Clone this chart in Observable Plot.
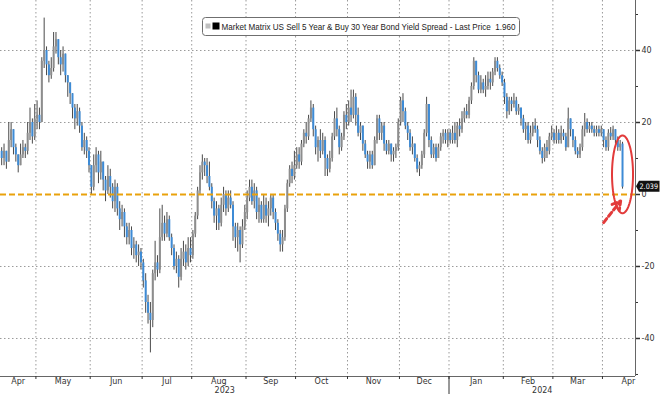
<!DOCTYPE html>
<html><head><meta charset="utf-8">
<script src="https://cdn.jsdelivr.net/npm/d3@7"></script>
<script src="https://cdn.jsdelivr.net/npm/@observablehq/plot@0.6"></script>
<style>
html,body{margin:0;padding:0;background:#fff;}
#chart{width:660px;height:394px;overflow:hidden;}
</style></head>
<body><div id="chart"></div>
<script>
// ---- data (daily candles, weekday calendar starting 2023-04-10) ----
const firstDay = "2023-04-10";
const firstOpen = 12;
const close = [
 10,12,9,15,18,13,11,8,11,13,12,17,20,16,21,
 22,20,37,40,36,33,35,41,43,38,36,39,33,31,28,24,21,23,19,13,15,12,8,
 2,8,11,6,9,4,1,5,2,-2,2,-4,-7,-5,-9,-12,-10,-15,-14,-17,-16,-19,
 -24,-30,-33,-35,-22,-19,-21,-12,-8,-11,-7,-12,-15,-20,-18,-23,-18,-16,-19,-15,-17,
 -11,-6,1,6,9,8,5,2,-2,-6,-4,-8,-3,0,-4,-1,-3,-9,-12,-10,-14,-9,-5,
 -1,2,-2,1,-5,-3,-7,-3,-6,-4,-1,-5,-8,-11,-14,-12,-4,3,7,5,8,
 11,9,14,17,16,21,24,18,13,15,12,15,10,7,10,16,21,18,13,16,22,20,
 24,22,27,22,17,19,14,11,9,11,8,15,21,17,19,14,12,14,11,12,13,20,
 26,23,19,17,13,14,10,7,8,11,17,25,15,11,13,10,13,16,17,15,17,
 15,17,15,19,18,21,23,22,26,30,37,33,29,31,29,30,32,31,34,37,35,33,31,
 27,23,26,25,26,23,24,21,18,19,15,17,19,18,15,12,10,13,12,16,17,
 15,17,15,17,16,13,21,18,15,12,11,13,18,20,18,19,18,17,18,17,18,
 15,13,17,16,18,15,13,14,2.04
];
const high = [
 13,14,12,20,20,18,14,11,14,15,14,20,24,21,25,
 26,24,38,49,41,37,38,45,45,43,40,41,39,33,31,28,25,25,24,20,17,16,13,
 8,11,13,12,12,9,5,8,7,3,4,3,-2,-3,-4,-8,-8,-9,-12,-13,-14,-15,
 -18,-22,-28,-30,-21,-13,-17,-4,-3,-6,-5,-6,-11,-14,-16,-17,-15,-13,-14,-12,-12,
 -10,-5,2,8,11,10,10,9,3,-1,-2,-3,-1,2,1,1,1,-2,-8,-8,-9,-7,-3,
 1,4,4,3,2,-1,-2,0,-1,-2,0,0,-4,-7,-10,-10,-3,4,8,9,12,
 13,13,15,18,20,22,26,25,19,16,18,17,16,11,12,17,23,24,19,17,23,25,
 26,29,29,28,24,20,19,15,12,12,12,16,22,22,20,20,15,15,14,13,14,21,
 27,28,24,20,18,16,14,11,9,12,18,27,25,16,14,14,14,17,18,18,18,
 18,19,20,20,21,23,24,25,27,31,38,37,34,33,32,33,34,34,35,38,38,36,34,
 32,28,27,27,28,27,25,24,22,20,20,19,20,21,19,16,13,14,15,17,19,
 18,19,18,19,18,17,24,21,18,16,13,14,19,22.5,21,20,20,19,19,19,19,
 18,16,18,18.6,19,18,16,15,14.5
];
const low = [
 8,8,7,9,13,11,9,6,8,10,10,11,15,14,15,
 18,18,20,35,33,31,32,34,39,36,33,34,31,27,25,21,18,19,17,12,11,10,6,
 0,1,6,3,4,1,-2,0,-1,-4,-5,-6,-10,-9,-12,-14,-14,-17,-18,-19,-20,-21,
 -26,-33,-36,-44,-37,-24,-23,-22,-13,-13,-12,-13,-17,-21,-22,-26,-24,-20,-21,-20,-19,
 -18,-12,-7,0,4,5,3,1,-4,-8,-10,-10,-9,-5,-6,-5,-4,-13,-15,-16,-19,-15,-10,
 -7,-2,-3,-4,-7,-8,-8,-8,-8,-9,-6,-7,-10,-13,-16,-16,-13,-5,2,3,4,
 7,7,8,13,14,15,20,16,11,9,10,11,5,5,6,9,15,16,11,12,15,18,
 19,20,21,19,16,15,12,10,7,7,7,8,14,15,15,12,11,11,9,9,10,12,
 19,20,18,15,12,11,9,6,5,7,10,16,13,10,10,9,10,12,14,14,13,
 14,14,14,13,16,17,20,21,21,25,29,31,28,28,28,27,29,29,30,33,34,32,30,
 25,21,22,23,24,22,22,19,17,15,14,14,16,17,13,11,8.5,9,10,11,15,
 14,14,14,14,15,12,13,16,13,11,10,10,12,16,17,17,17,16,16,16,16,
 13,12,12,15,15,14,12,12,1.5
];
const yTicks = [-40, -20, 0, 20, 40];
const yMinorTicks = [-50, -30, -10, 10, 30, 50];
const monthNames = ["Jan","Feb","Mar","Apr","May","Jun","Jul","Aug","Sep","Oct","Nov","Dec"];
const refLevel = 0;
const legendText = "Market Matrix US Sell 5 Year & Buy 30 Year Bond Yield Spread - Last Price  1.960";
const lastLabel = "2.039";

// ---- derived tables ----
const d0 = new Date(firstDay + "T00:00:00Z");
const calendar = d3.utcDay.range(d0, new Date(Date.UTC(2024, 4, 1))).filter(d => d.getUTCDay() % 6 !== 0);
const candles = close.map((c, i) => ({
  i, date: calendar[i], open: i ? close[i - 1] : firstOpen, close: c, high: high[i], low: low[i]
}));
const xmin = -0.5, xmax = close.length + 4.5;
const ymin = -50.56, ymax = 53.89;

const months = [];
calendar.forEach((d, i) => {
  if (i === 0 || d.getUTCMonth() !== calendar[i - 1].getUTCMonth()) months.push({start: i - 0.5, m: d.getUTCMonth(), y: d.getUTCFullYear()});
});
months.forEach((m, k) => { m.end = k < months.length - 1 ? months[k + 1].start : calendar.length - 0.5; m.mid = (Math.max(m.start, xmin) + m.end) / 2; });
const monthBounds = months.map(m => m.start).filter(v => v > xmin && v < xmax);
const years = d3.groups(months, m => m.y).map(([y, ms]) => {
  const s = Math.max(ms[0].start, xmin), e = Math.min(ms[ms.length - 1].end, xmax);
  return {y, start: ms[0].start, mid: (s + e) / 2};
});
const yearBounds = years.map(y => y.start).filter(v => v > xmin && v < xmax);
const monthLabel = new Map(months.map(m => [m.mid, monthNames[m.m]]));
const yearLabel = new Map(years.map(y => [y.mid, String(y.y)]));

// annotation geometry around the last candle
const last = candles[candles.length - 1];
const ell = {cx: last.i, cy: 5.6, rx: 4.45, ry: 10.8};
const ellipse = d3.range(0, 361, 4).map(a => ({x: ell.cx + ell.rx * Math.cos(a * Math.PI / 180), y: ell.cy + ell.ry * Math.sin(a * Math.PI / 180)}));

const font = "'DejaVu Sans', Verdana, sans-serif";
const blue = "#3d8bd6", gray = "#8d8d8d";

const plot = Plot.plot({
  width: 660, height: 394,
  marginLeft: 0, marginRight: 25, marginTop: 0, marginBottom: 18,
  x: {type: "linear", domain: [xmin, xmax], axis: null},
  y: {domain: [ymin, ymax], axis: null},
  style: {fontFamily: font, fontSize: "8px", color: "#333", background: "#fff"},
  marks: [
    Plot.ruleY(yTicks.filter(v => v !== refLevel), {stroke: "#9a9a9a", strokeDasharray: "1.5,2.5", strokeWidth: 1}),
    Plot.ruleX(monthBounds, {stroke: "#9a9a9a", strokeDasharray: "1.5,2.5", strokeWidth: 1}),
    Plot.ruleX(candles, {x: "i", y1: "low", y2: "high", stroke: "#4a4a4a", strokeWidth: 1}),
    Plot.ruleX(candles, {x: "i", y1: "open", y2: "close", stroke: d => d.close >= d.open ? gray : blue, strokeWidth: 2}),
    Plot.ruleY([refLevel], {stroke: "#e9a20c", strokeWidth: 2, strokeDasharray: "6,3"}),
    Plot.ruleX([xmax], {stroke: "#666", strokeWidth: 1}),
    Plot.ruleY([ymin], {stroke: "#666", strokeWidth: 1}),
    Plot.axisY({ticks: yTicks, anchor: "right", tickSize: 4, tickPadding: 2, strokeWidth: 1.5, label: null, tickFormat: d => String(d)}),
    Plot.axisY({ticks: yMinorTicks, anchor: "right", tickSize: 2, label: null, tickFormat: () => ""}),
    Plot.axisX({ticks: monthBounds, anchor: "bottom", tickSize: 3, label: null, tickFormat: () => ""}),
    Plot.axisX({ticks: yearBounds, anchor: "bottom", tickSize: 18, label: null, tickFormat: () => ""}),
    Plot.axisX({ticks: months.map(m => m.mid), anchor: "bottom", tickSize: 0, tickPadding: 2, label: null, tickFormat: v => monthLabel.get(v)}),
    Plot.axisX({ticks: years.map(y => y.mid), anchor: "bottom", tickSize: 0, tickPadding: 11, label: null, tickFormat: v => yearLabel.get(v)}),
    Plot.line(ellipse, {x: "x", y: "y", stroke: "#e23b3b", strokeWidth: 2, curve: "linear"}),
    Plot.arrow([{x1: last.i - 8, y1: -7.8, x2: last.i - 0.8, y2: -1.8}], {x1: "x1", y1: "y1", x2: "x2", y2: "y2", stroke: "#e23b3b", strokeWidth: 3, strokeDasharray: "5,3", headLength: 7})
  ]
});
document.getElementById("chart").appendChild(plot);

// legend box and last-price tag (overlay using the plot's own scales)
const svg = d3.select(plot);
const lg = svg.append("g").attr("transform", "translate(202.5,17.5)").attr("text-anchor", "start");
lg.append("rect").attr("width", 317).attr("height", 18).attr("rx", 3).attr("fill", "#fff").attr("stroke", "#6f6f6f");
lg.append("rect").attr("x", 3).attr("y", 6).attr("width", 5).attr("height", 5).attr("fill", "#c0c0c0");
lg.append("rect").attr("x", 10).attr("y", 5).attr("width", 7).attr("height", 7).attr("fill", "#000");
lg.append("text").attr("x", 19).attr("y", 12.5).attr("text-anchor", "start")
  .attr("font-family", "'Liberation Sans Narrow','Liberation Sans',Arial,sans-serif")
  .attr("font-size", 9.5).attr("fill", "#222").attr("textLength", 294).attr("lengthAdjust", "spacingAndGlyphs").text(legendText);

const ys = plot.scale("y"), xs = plot.scale("x");
const ty = ys.apply(last.close) - 0.5, tx = xs.apply(xmax);
const tag = svg.append("g").attr("transform", `translate(${tx},${ty})`).attr("text-anchor", "start");
tag.append("path").attr("d", "M1,0 L4,-5.5 L24.5,-5.5 L24.5,5.5 L4,5.5 Z").attr("fill", "#111");
tag.append("text").attr("x", 4.5).attr("y", 2.8).attr("text-anchor", "start").attr("font-family", font)
  .attr("font-size", 7.5).attr("fill", "#fff").attr("textLength", 18.5).attr("lengthAdjust", "spacingAndGlyphs").text(lastLabel);
</script></body></html>
